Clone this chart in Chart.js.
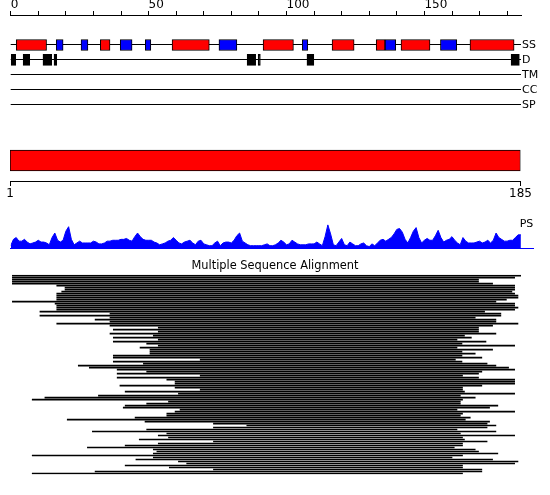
<!DOCTYPE html>
<html>
<head>
<meta charset="utf-8">
<script src="https://cdn.jsdelivr.net/npm/chart.js@4.4.1/dist/chart.umd.min.js"></script>
<style>
  html, body { margin: 0; padding: 0; background: #fff; }
  #page { position: relative; width: 550px; height: 495px; overflow: hidden; }
  canvas { position: absolute; left: 0; }
</style>
</head>
<body>
<div id="page">
  <canvas id="tracks" width="550" height="120" style="top:0"></canvas>
  <canvas id="domain" width="550" height="70" style="top:140px"></canvas>
  <canvas id="ps" width="550" height="40" style="top:215px"></canvas>
  <canvas id="msa" width="550" height="225" style="top:255px"></canvas>
</div>
<script>
  const SEQ_LENGTH = 185;
  const TOP_TICK_LABELS = [0, 50, 100, 150];
  const TRACK_LABELS = ['SS', 'D', 'TM', 'CC', 'SP'];

  // residue ranges
  const HELIX = [[2, 13], [32.5, 36], [58.5, 72], [91.5, 102.5], [116.5, 124.5], [132.5, 135.7], [141.5, 152], [166.5, 182.5]];
  const STRAND = [[16.5, 19], [25.5, 28], [39.7, 44], [48.8, 50.8], [75.5, 82], [105.7, 107.7], [135.7, 139.6], [155.8, 161.7]];
  const DISORDER = [[0, 1.8], [4.5, 6.9], [11.7, 14.9], [15.7, 16.7], [85.7, 88.8], [89.7, 90.5], [107.4, 109.9], [181.4, 184.4]];

  const DOMAIN = [1, 185];
  const DOMAIN_TICKS = [1, 185];

  // PS profile, one value per residue 0..185
  const PS_VALUES = [
    3, 10, 12, 8, 8, 10, 7, 5, 6, 7,
    9, 7, 7, 6, 4, 12, 17, 9, 7, 9,
    19, 24, 10, 4, 6, 8, 6, 6, 6, 6,
    8, 7, 5, 5, 6, 8, 8, 9, 9, 9,
    10, 10, 11, 9, 8, 13, 17, 13, 10, 9,
    9, 9, 7, 6, 4, 5, 6, 8, 9, 12,
    9, 6, 5, 7, 8, 9, 6, 4, 8, 9,
    5, 4, 3, 3, 6, 8, 3, 6, 7, 7,
    6, 9, 14, 17, 8, 6, 4, 3, 3, 3,
    3, 3, 4, 5, 3, 3, 4, 6, 9, 7,
    4, 5, 9, 7, 5, 4, 4, 4, 5, 5,
    5, 7, 5, 3, 13, 26, 16, 4, 3, 7,
    11, 4, 3, 7, 5, 3, 3, 5, 6, 3,
    2, 5, 3, 6, 9, 10, 8, 10, 12, 16,
    21, 22, 18, 10, 6, 12, 19, 23, 12, 6,
    9, 11, 9, 9, 14, 20, 12, 7, 9, 10,
    13, 9, 6, 4, 12, 8, 6, 6, 6, 7,
    8, 6, 7, 9, 6, 9, 17, 12, 10, 8,
    8, 9, 9, 12, 15, 15
  ];

  // alignment rows: first and last aligned residue
  const MSA_START = [
    0.6, 0.6, 0.6, 0.6, 0.6, 16.7, 19.7, 19.7, 18.5, 16.7,
    16.7, 16.7, 16.7, 0.6, 16.1, 16.7, 16.7, 16.7, 10.6, 36,
    10.6, 36, 30.6, 36, 16.7, 36, 53.5, 37.2, 53.5, 36,
    51.7, 37.2, 53.5, 37.2, 49.3, 53.5, 46.9, 50.5, 50.5, 50.5,
    37.2, 37.2, 68.7, 37.2, 48.1, 24.5, 28.5, 38.6, 49.3, 38.6,
    68.7, 38.6, 56.6, 59.6, 59.6, 39.6, 59.6, 68.7, 41.5, 60.8,
    31.8, 12.4, 7.8, 57.2, 49.3, 41.5, 40.8, 61.4, 59.6, 56.6,
    56.6, 45.1, 20.5, 48.7, 73.5, 85.6, 73.5, 49.3, 29.6, 56.6,
    53.5, 57.2, 46.6, 73.5, 53.5, 41.5, 27.8, 51.7, 53, 51.7,
    7.8, 51.7, 45.4, 60.8, 63.8, 41.5, 57.5, 73.5, 30.6, 7.8
  ];
  const MSA_END = [
    185.1, 182.7, 169.6, 169.6, 174.7, 182.7, 182.7, 182.7, 181.7, 182.7,
    183.9, 183.9, 179.7, 175.9, 182.7, 182.7, 183.9, 182.7, 171.8, 177.7,
    177.7, 168.4, 175.9, 175.9, 183.9, 174.7, 169.6, 169.6, 169.6, 175.9,
    164.5, 167, 161.8, 172.3, 163.6, 182.7, 161.8, 174.7, 163.6, 168.4,
    163.6, 170.8, 161.2, 163.6, 172.7, 175.9, 180.5, 182.7, 170.8, 169.6,
    163.8, 169.6, 182.7, 182.7, 182.7, 170.8, 163.8, 163.8, 164.5, 182.7,
    163, 168.4, 163.8, 163, 163, 176.6, 173.6, 161.8, 182.7, 163.8,
    163, 166.6, 164.8, 173.6, 172.7, 175.9, 172.7, 161.8, 175.9, 163,
    182.7, 163.8, 164.5, 172.7, 163.8, 163.8, 160.8, 168.4, 169.6, 176.6,
    163.8, 160, 174.7, 183.9, 182.7, 163.8, 163.8, 170.8, 170.8, 163.8
  ];

  const RED = '#ff0000';
  const BLUE = '#0000ff';
  const BLACK = '#000000';

  Chart.defaults.font.family = "'DejaVu Sans', sans-serif";
  Chart.defaults.color = BLACK;

  const noPlugins = { legend: { display: false }, tooltip: { enabled: false } };

  function trackY(name) {
    return TRACK_LABELS.indexOf(name) + 1;
  }

  function segments(list, track) {
    return list.map(([s, e]) => ({ x: [s, e], y: trackY(track) }));
  }

  // feature tracks with the residue ruler on top
  new Chart(document.getElementById('tracks'), {
    type: 'bar',
    data: {
      datasets: [
        { label: 'Helix', data: segments(HELIX, 'SS'), backgroundColor: RED },
        { label: 'Strand', data: segments(STRAND, 'SS'), backgroundColor: BLUE },
        { label: 'Disorder', data: segments(DISORDER, 'D'), backgroundColor: BLACK }
      ]
    },
    options: {
      indexAxis: 'y',
      responsive: false,
      animation: false,
      layout: { padding: { left: 10.7, right: 0, top: 0, bottom: 7.5 } },
      datasets: {
        bar: { barThickness: 11, borderColor: BLACK, borderWidth: 1, borderSkipped: false, grouped: false }
      },
      plugins: noPlugins,
      scales: {
        x: {
          type: 'linear',
          position: 'top',
          min: 0,
          max: SEQ_LENGTH,
          grid: { drawOnChartArea: false, tickLength: 4, color: BLACK },
          border: { color: BLACK },
          ticks: {
            stepSize: 10,
            includeBounds: false,
            align: 'start',
            padding: -1,
            maxRotation: 0,
            autoSkip: false,
            font: { size: 12 },
            callback: (v) => (TOP_TICK_LABELS.includes(v) ? String(v) : '')
          },
          afterFit: (s) => { s.height = 15; }
        },
        y: {
          type: 'linear',
          position: 'right',
          reverse: true,
          min: -1,
          max: 5.5,
          offset: false,
          grid: {
            offset: false,
            drawTicks: false,
            color: (ctx) => (ctx.tick && ctx.tick.value >= 1 && Number.isInteger(ctx.tick.value) ? BLACK : 'rgba(0,0,0,0)')
          },
          border: { display: false },
          ticks: {
            stepSize: 1,
            includeBounds: false,
            padding: 1,
            font: { size: 11 },
            callback: (v) => TRACK_LABELS[v - 1] || ''
          },
          afterFit: (s) => { s.width = 29; }
        }
      }
    }
  });

  // domain bar
  new Chart(document.getElementById('domain'), {
    type: 'bar',
    data: {
      labels: ['domain'],
      datasets: [{
        data: [DOMAIN],
        backgroundColor: RED,
        borderColor: BLACK,
        borderWidth: 1,
        borderSkipped: false,
        barThickness: 21
      }]
    },
    options: {
      indexAxis: 'y',
      responsive: false,
      animation: false,
      layout: { padding: { left: 10, right: 29.5, top: 0, bottom: 0 } },
      plugins: noPlugins,
      scales: {
        x: {
          type: 'linear',
          min: DOMAIN_TICKS[0],
          max: DOMAIN_TICKS[DOMAIN_TICKS.length - 1],
          afterBuildTicks: (s) => { s.ticks = DOMAIN_TICKS.map((value) => ({ value })); },
          grid: { drawOnChartArea: false, tickLength: 5, color: BLACK },
          border: { color: BLACK },
          ticks: { padding: 1, maxRotation: 0, autoSkip: false, font: { size: 12 } },
          afterFit: (s) => { s.height = 29; }
        },
        y: { display: false }
      }
    }
  });

  // PS profile
  new Chart(document.getElementById('ps'), {
    type: 'line',
    data: {
      datasets: [{
        data: PS_VALUES.map((y, x) => ({ x, y })),
        fill: 'origin',
        backgroundColor: BLUE,
        borderColor: BLUE,
        borderWidth: 1,
        pointRadius: 0,
        tension: 0
      }]
    },
    options: {
      responsive: false,
      animation: false,
      layout: { padding: { left: 10.7, right: 16.7, top: 9, bottom: 4.5 } },
      plugins: noPlugins,
      scales: {
        x: {
          type: 'linear',
          min: 0,
          max: 189.5,
          grid: { display: false, drawTicks: false },
          ticks: { display: false },
          border: { color: BLUE },
          afterFit: (s) => { s.height = 0; }
        },
        y: {
          position: 'right',
          min: 0,
          max: 27,
          grid: { display: false, drawTicks: false },
          border: { display: false },
          afterBuildTicks: (s) => { s.ticks = [{ value: s.max }]; },
          ticks: { mirror: true, padding: 0, font: { size: 11 }, callback: () => 'PS' },
          afterFit: (s) => { s.width = 0; }
        }
      }
    }
  });

  // multiple sequence alignment
  new Chart(document.getElementById('msa'), {
    type: 'bar',
    data: {
      labels: MSA_START.map((_, i) => i + 1),
      datasets: [{
        data: MSA_START.map((s, i) => [s, MSA_END[i]]),
        backgroundColor: BLACK,
        barThickness: 1,
        borderSkipped: false
      }]
    },
    options: {
      indexAxis: 'y',
      responsive: false,
      animation: false,
      layout: { padding: { left: 10.7, right: 10.7, top: 0, bottom: 5.5 } },
      plugins: {
        legend: { display: false },
        tooltip: { enabled: false },
        title: {
          display: true,
          text: 'Multiple Sequence Alignment',
          color: BLACK,
          font: { size: 11.4, weight: 'normal' },
          padding: { top: 4, bottom: 2 }
        }
      },
      scales: {
        x: { type: 'linear', min: 0, max: SEQ_LENGTH, display: false },
        y: {
          position: 'right',
          grid: { display: false, drawTicks: false },
          border: { display: false },
          ticks: { display: false },
          afterFit: (s) => { s.width = 18.3; }
        }
      }
    }
  });
</script>
</body>
</html>
